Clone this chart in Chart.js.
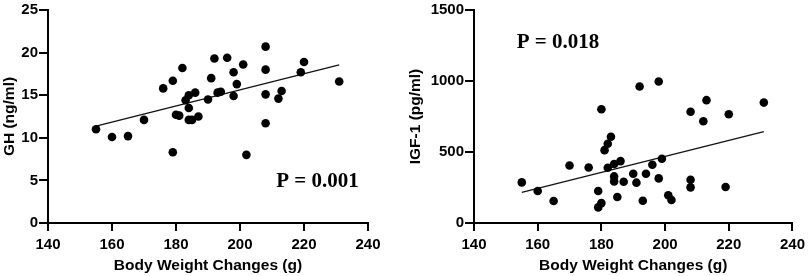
<!DOCTYPE html>
<html>
<head>
<meta charset="utf-8">
<script src="https://cdn.jsdelivr.net/npm/chart.js@4/dist/chart.umd.min.js"></script>
<style>
  html, body { margin: 0; padding: 0; background: #fff; }
  #wrap { position: relative; width: 810px; height: 276px; overflow: hidden; }
  #c1 { position: absolute; left: 0; top: 0; }
  #c2 { position: absolute; left: 400px; top: 0; }
</style>
</head>
<body>
<div id="wrap">
  <canvas id="c1" width="400" height="276"></canvas>
  <canvas id="c2" width="410" height="276"></canvas>
</div>
<script>
// ---- Data ----
const xTicks = [140, 160, 180, 200, 220, 240];
const ghTicks = [0, 5, 10, 15, 20, 25];
const igfTicks = [0, 500, 1000, 1500];

const ghWeight = [155,160,165,170,176,179,182,179,180,181,183,184,184,184,185,186,187,190,191,192,193,194,196,198,198,199,201,202,208,208,208,208,212,213,219,220,231];
const ghValue  = [11.0,10.1,10.2,12.1,15.8,16.7,18.2,8.3,12.7,12.6,14.4,15.0,13.5,12.1,12.1,15.3,12.5,14.5,17.0,19.3,15.3,15.4,19.4,17.7,14.9,16.3,18.6,8.0,20.7,18.0,15.1,11.7,14.6,15.5,17.7,18.9,16.6];
const ghFitX = [155, 231];
const ghFitY = [11.36, 18.57];

const igfWeight = [155,160,165,170,176,180,179,179,180,181,182,183,182,184,184,184,185,186,187,190,191,192,193,194,196,198,198,199,201,202,208,208,208,212,213,219,220,231];
const igfValue  = [286,225,155,405,391,801,225,110,140,513,558,607,389,415,328,293,183,436,291,347,284,961,157,347,410,996,314,452,195,162,783,305,251,717,865,253,766,848];
const igfFitX = [155, 231];
const igfFitY = [216, 644];

const ghLabel = 'P = 0.001';
const igfLabel = 'P = 0.018';
const xTitle = 'Body Weight Changes (g)';
const ghTitle = 'GH (ng/ml)';
const igfTitle = 'IGF-1 (pg/ml)';

const SANS = "'Liberation Sans', Arial, sans-serif";
const SERIF = "'Liberation Serif', 'Times New Roman', serif";

function pts(xs, ys) { return xs.map((x, i) => ({ x: x, y: ys[i] })); }

const pText = {
  id: 'pText',
  afterDatasetsDraw(chart, args, opts) {
    const ctx = chart.ctx;
    const xs = chart.scales.x, ys = chart.scales.y;
    ctx.save();
    ctx.font = "bold 21px " + SERIF;
    ctx.fillStyle = '#000';
    ctx.textAlign = 'left';
    ctx.textBaseline = 'alphabetic';
    ctx.fillText(opts.text, xs.getPixelForValue(opts.x), ys.getPixelForValue(opts.y));
    ctx.restore();
  }
};

function makeChart(id, cfg) {
  return new Chart(document.getElementById(id), {
    data: {
      datasets: [
        {
          type: 'scatter',
          data: pts(cfg.xs, cfg.ys),
          backgroundColor: '#000',
          borderWidth: 0,
          pointRadius: 4.3,
          pointHoverRadius: 4.3
        },
        {
          type: 'line',
          data: pts(cfg.fx, cfg.fy),
          borderColor: '#111',
          borderWidth: 1.3,
          pointRadius: 0,
          fill: false
        }
      ]
    },
    options: {
      responsive: false,
      animation: false,
      devicePixelRatio: 1,
      layout: { padding: { left: 0, right: cfg.padRight, top: 10, bottom: 0 } },
      plugins: {
        legend: { display: false },
        tooltip: { enabled: false },
        pText: { text: cfg.ptext, x: cfg.px, y: cfg.py }
      },
      scales: {
        x: {
          type: 'linear',
          min: 140, max: 240,
          afterBuildTicks: s => { s.ticks = xTicks.map(v => ({ value: v })); },
          afterFit: s => { s.height = 53; },
          grid: { drawOnChartArea: false, drawTicks: true, tickLength: 8, tickColor: '#000', lineWidth: 2 },
          border: { display: true, color: '#000', width: 2 },
          ticks: { color: '#000', padding: 5, font: { family: SANS, size: 15, weight: 'bold' }, callback: v => String(v), maxRotation: 0 },
          title: { display: true, text: xTitle, color: '#000', padding: { top: 0, bottom: 1 }, font: { family: SANS, size: 15.5, weight: 'bold' } }
        },
        y: {
          type: 'linear',
          min: cfg.ymin, max: cfg.ymax,
          afterBuildTicks: s => { s.ticks = cfg.yticks.map(v => ({ value: v })); },
          afterFit: s => { s.width = cfg.yWidth; },
          grid: { drawOnChartArea: false, drawTicks: true, tickLength: 9, tickColor: '#000', lineWidth: 2 },
          border: { display: true, color: '#000', width: 2 },
          ticks: { color: '#000', padding: 1, font: { family: SANS, size: 15, weight: 'bold' }, callback: v => String(v) },
          title: { display: true, text: cfg.ytitle, color: '#000', padding: { top: cfg.yTitlePad, bottom: 0 }, font: { family: SANS, size: 15.5, weight: 'bold' } }
        }
      }
    },
    plugins: [pText]
  });
}

makeChart('c1', {
  xs: ghWeight, ys: ghValue, fx: ghFitX, fy: ghFitY,
  ymin: 0, ymax: 25, yticks: ghTicks, ytitle: ghTitle,
  yWidth: 48, yTitlePad: 0, padRight: 32,
  ptext: ghLabel, px: 211.3, py: 4.2
});
makeChart('c2', {
  xs: igfWeight, ys: igfValue, fx: igfFitX, fy: igfFitY,
  ymin: 0, ymax: 1500, yticks: igfTicks, ytitle: igfTitle,
  yWidth: 74, yTitlePad: 6, padRight: 16,
  ptext: igfLabel, px: 153.4, py: 1233
});
</script>
</body>
</html>
